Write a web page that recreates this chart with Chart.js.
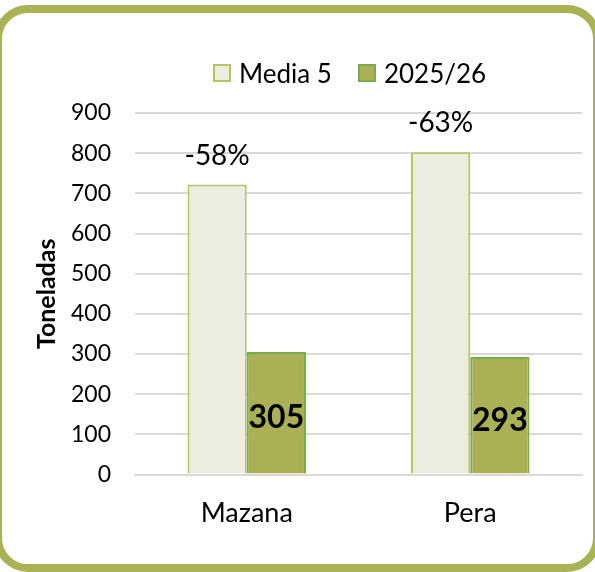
<!DOCTYPE html>
<html>
<head>
<meta charset="utf-8">
<script src="https://cdn.jsdelivr.net/npm/chart.js@4/dist/chart.umd.min.js"></script>
<style>
    html, body { margin: 0; padding: 0; background: #fff; overflow: hidden; }
    #wrap { position: relative; width: 595px; height: 572px; overflow: hidden; font-family: Lato, sans-serif; }
    #frame {
        position: absolute; left: -6px; right: -6px; top: 5px; bottom: 0px; box-sizing: border-box;
        border: 8px solid #a9b255; border-radius: 34px; pointer-events: none;
    }
    #chart { position: absolute; left: 0; top: 0; }
    #legend { position: absolute; left: 213px; top: 57px; display: flex; align-items: center; font-size: 26px; color: #000; }
    .lg-item { display: flex; align-items: center; margin-right: 26px; }
    .lg-box { width: 14px; height: 14px; border: 2px solid; margin-right: 8px; }
</style>
</head>
<body>
<div id="wrap">
    <canvas id="chart" width="595" height="572"></canvas>
    <div id="legend"></div>
    <div id="frame"></div>
</div>
<script>
const categories = ['Mazana', 'Pera'];
const seriesNames = ['Media 5', '2025/26'];
const media5 = [722, 802];
const season = [305, 293];
const yTicks = [0, 100, 200, 300, 400, 500, 600, 700, 800, 900];

const fills = ['#ecedde', '#abb057'];
const borders = ['#b9c266', '#74ad4a'];

// legend built from the series names
const legend = document.getElementById('legend');
seriesNames.forEach((name, i) => {
    const item = document.createElement('div');
    item.className = 'lg-item';
    item.innerHTML = `<span class="lg-box" style="background:${fills[i]};border-color:${borders[i]}"></span><span>${name}</span>`;
    legend.appendChild(item);
});

const labelPlugin = {
    id: 'barLabels',
    afterDatasetsDraw(chart) {
        const ctx = chart.ctx;
        const m0 = chart.getDatasetMeta(0);
        const m1 = chart.getDatasetMeta(1);
        ctx.save();
        ctx.fillStyle = '#000';
        ctx.textAlign = 'center';
        ctx.textBaseline = 'middle';
        ctx.font = '28px Lato';
        m0.data.forEach((bar, i) => {
            const pct = Math.round((season[i] / media5[i] - 1) * 100);
            ctx.fillText(pct + '%', bar.x, bar.y - 29);
        });
        ctx.font = 'bold 32px Lato';
        m1.data.forEach((bar, i) => {
            ctx.fillText(String(season[i]), bar.x, (bar.y + bar.base) / 2 + 5);
        });
        ctx.restore();
    }
};

new Chart(document.getElementById('chart').getContext('2d'), {
    type: 'bar',
    data: {
        labels: categories,
        datasets: [
            { label: seriesNames[0], data: media5, backgroundColor: fills[0], borderColor: borders[0], borderWidth: 2 },
            { label: seriesNames[1], data: season, backgroundColor: fills[1], borderColor: borders[1], borderWidth: 2 }
        ]
    },
    options: {
        responsive: false,
        animation: false,
        layout: { padding: { top: 113, left: 30, right: 13, bottom: 29 } },
        datasets: { bar: { categoryPercentage: 0.53, barPercentage: 1 } },
        plugins: { legend: { display: false }, tooltip: { enabled: false } },
        scales: {
            x: {
                grid: { display: false },
                border: { color: '#d9d9d9', width: 2 },
                ticks: { color: '#000', font: { family: 'Lato', size: 27 }, padding: 14 }
            },
            y: {
                min: 0,
                max: 900,
                afterBuildTicks: axis => { axis.ticks = yTicks.map(v => ({ value: v })); },
                afterFit: axis => { axis.width = 105; },
                grid: { color: '#d9d9d9', lineWidth: 2, drawTicks: false },
                border: { display: false },
                ticks: { color: '#000', font: { family: 'Lato', size: 23 }, padding: 24 },
                title: { display: true, text: 'Toneladas', color: '#000', font: { family: 'Lato', size: 25, weight: 'bold' }, padding: 2 }
            }
        }
    },
    plugins: [labelPlugin]
});
</script>
</body>
</html>
